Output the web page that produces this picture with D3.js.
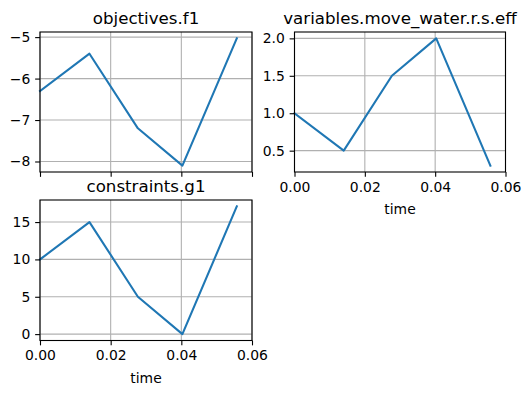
<!DOCTYPE html>
<html>
<head>
<meta charset="utf-8">
<script src="https://cdn.jsdelivr.net/npm/d3@7"></script>
<style>
  html, body { margin: 0; padding: 0; background: #fff; }
  svg { display: block; }
  text { font-family: "DejaVu Sans", sans-serif; fill: #000; }
</style>
</head>
<body>
<script>
// ---- data ----
const time = [0, 0.0140, 0.0277, 0.0403, 0.0557];
const f1 = [-6.3, -5.4, -7.2, -8.1, -5.03];
const moveWaterEff = [1.0, 0.5, 1.5, 2.0, 0.3];
const g1 = [10, 15, 5, 0, 17.1];
const xTicks = [0, 0.02, 0.04, 0.06];
const f1Ticks = [-8, -7, -6, -5];
const effTicks = [0.5, 1.0, 1.5, 2.0];
const g1Ticks = [0, 5, 10, 15];
const titles = ["objectives.f1", "variables.move_water.r.s.eff", "constraints.g1"];
const xLabel = "time";

// ---- layout ----
const W = 530, H = 393;
const svg = d3.select("body").append("svg").attr("width", W).attr("height", H);

const panels = [
  { title: titles[0], y: f1, ticks: f1Ticks, fmt: d => d3.format("d")(d).replace("-", "\u2212"), left: 40, top: 32, w: 212, h: 140, showX: false },
  { title: titles[1], y: moveWaterEff, ticks: effTicks, fmt: d3.format(".1f"), left: 294.5, top: 32, w: 211, h: 140, showX: true },
  { title: titles[2], y: g1, ticks: g1Ticks, fmt: d3.format("d"), left: 40, top: 200, w: 212, h: 140.5, showX: true }
];

const tickLen = 4.86, tickPad = 4.86;
const gridColor = "#b0b0b0";
const lineColor = "#1f77b4";

panels.forEach(p => {
  const g = svg.append("g").attr("transform", `translate(${p.left},${p.top})`);
  const x = d3.scaleLinear().domain([0, 0.06]).range([0, p.w]);
  const ext = d3.extent(p.y);
  const pad = (ext[1] - ext[0]) * 0.05;
  const y = d3.scaleLinear().domain([ext[0] - pad, ext[1] + pad]).range([p.h, 0]);

  // grid
  g.append("g").selectAll("line.vx").data(xTicks).join("line")
    .attr("x1", d => x(d)).attr("x2", d => x(d)).attr("y1", 0).attr("y2", p.h)
    .attr("stroke", gridColor).attr("stroke-width", 1.1);
  g.append("g").selectAll("line.hy").data(p.ticks).join("line")
    .attr("x1", 0).attr("x2", p.w).attr("y1", d => y(d)).attr("y2", d => y(d))
    .attr("stroke", gridColor).attr("stroke-width", 1.1);

  // line
  const line = d3.line().x((d, i) => x(time[i])).y(d => y(d));
  g.append("path").datum(p.y).attr("d", line)
    .attr("fill", "none").attr("stroke", lineColor).attr("stroke-width", 2.08)
    .attr("stroke-linejoin", "round").attr("stroke-linecap", "square");

  // axes
  const xa = d3.axisBottom(x).tickValues(xTicks).tickSize(tickLen).tickPadding(tickPad).tickSizeOuter(0)
    .tickFormat(p.showX ? d3.format(".2f") : () => "");
  const xg = g.append("g").attr("transform", `translate(0,${p.h})`).call(xa);
  const ya = d3.axisLeft(y).tickValues(p.ticks).tickSize(tickLen).tickPadding(tickPad).tickSizeOuter(0).tickFormat(p.fmt);
  const yg = g.append("g").call(ya);
  [xg, yg].forEach(a => {
    a.select(".domain").remove();
    a.selectAll(".tick line").attr("stroke", "#000").attr("stroke-width", 1.1);
    a.selectAll(".tick text").attr("font-size", "13.9px").attr("font-family", "DejaVu Sans").attr("fill", "#000");
  });

  // spines
  g.append("rect").attr("x", 0).attr("y", 0).attr("width", p.w).attr("height", p.h)
    .attr("fill", "none").attr("stroke", "#000").attr("stroke-width", 1.1);

  // title
  g.append("text").attr("x", p.w / 2).attr("y", -8.3).attr("text-anchor", "middle")
    .attr("font-size", "16.67px").text(p.title);

  if (p.showX) {
    g.append("text").attr("x", p.w / 2).attr("y", p.h + 42).attr("text-anchor", "middle")
      .attr("font-size", "13.9px").text(xLabel);
  }
});
</script>
</body>
</html>
